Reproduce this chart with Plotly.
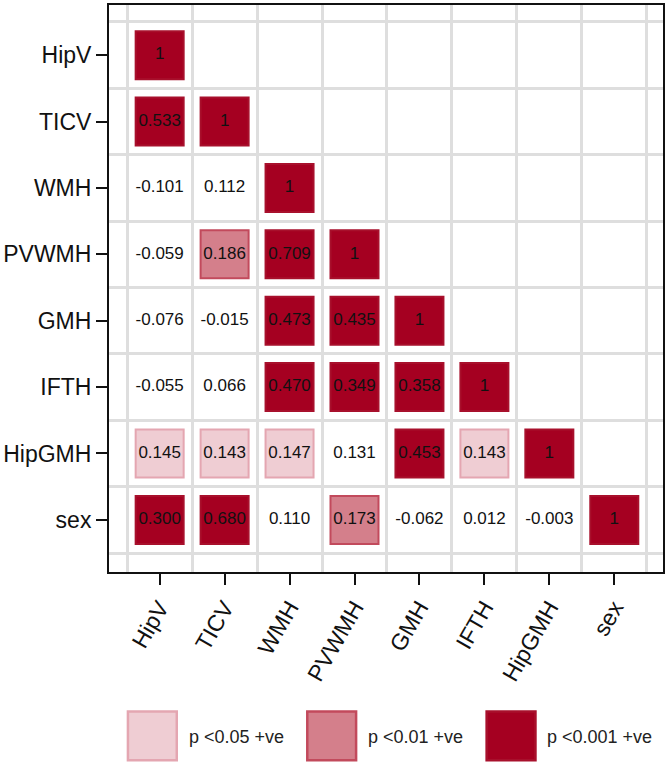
import plotly.graph_objects as go

# ---- data ----
variables = ["HipV", "TICV", "WMH", "PVWMH", "GMH", "IFTH", "HipGMH", "sex"]

# lower-triangular correlation values, row by row (row i has i+1 entries)
corr_rows = [
    [1],
    [0.533, 1],
    [-0.101, 0.112, 1],
    [-0.059, 0.186, 0.709, 1],
    [-0.076, -0.015, 0.473, 0.435, 1],
    [-0.055, 0.066, 0.470, 0.349, 0.358, 1],
    [0.145, 0.143, 0.147, 0.131, 0.453, 0.143, 1],
    [0.300, 0.680, 0.110, 0.173, -0.062, 0.012, -0.003, 1],
]

# significance level per cell: 0 = n.s., 1 = p<0.05, 2 = p<0.01, 3 = p<0.001
sig_rows = [
    [3],
    [3, 3],
    [0, 0, 3],
    [0, 2, 3, 3],
    [0, 0, 3, 3, 3],
    [0, 0, 3, 3, 3, 3],
    [1, 1, 1, 0, 3, 1, 3],
    [3, 3, 0, 2, 0, 0, 0, 3],
]

legend_labels = ["p <0.05 +ve", "p <0.01 +ve", "p <0.001 +ve"]

# ---- styles ----
FONT = "Liberation Sans, Arial, sans-serif"
fills = {1: "#EFCDD3", 2: "#D47F8B", 3: "#A50021"}
borders = {1: "#E4A6B1", 2: "#C24A5C", 3: "#A8102C"}

fig = go.Figure()

# squares per significance level
for lvl in (1, 2, 3):
    xs, ys = [], []
    for i, row in enumerate(sig_rows):
        for j, s in enumerate(row):
            if s == lvl:
                xs.append(j)
                ys.append(i)
    fig.add_trace(go.Scatter(
        x=xs, y=ys, mode="markers",
        marker=dict(symbol="square", size=48, color=fills[lvl],
                    line=dict(color=borders[lvl], width=2)),
        hoverinfo="skip", showlegend=False,
    ))

# text values
tx, ty, tt = [], [], []
for i, row in enumerate(corr_rows):
    for j, v in enumerate(row):
        tx.append(j)
        ty.append(i)
        tt.append("1" if v == 1 else f"{v:.3f}")
fig.add_trace(go.Scatter(
    x=tx, y=ty, mode="text", text=tt,
    textfont=dict(family=FONT, size=17, color="#111111"),
    hoverinfo="skip", showlegend=False,
))

grid_vals = [k - 0.5 for k in range(len(variables) + 1)]
axis_common = dict(
    showline=True, linecolor="#111111", linewidth=2, mirror=True,
    ticks="outside", ticklen=11, tickwidth=2, tickcolor="#111111",
    showgrid=False, zeroline=False,
    tickfont=dict(family=FONT, size=23, color="#111111"),
    minor=dict(tickvals=grid_vals, showgrid=True, gridcolor="#DEDEDE", gridwidth=2.5, ticks=""),
)

fig.update_xaxes(
    range=[-0.78, 7.75],
    tickvals=list(range(len(variables))), ticktext=variables,
    tickangle=-60, **axis_common,
)
fig.update_yaxes(
    range=[7.785, -0.755],
    tickvals=list(range(len(variables))), ticktext=variables,
    **axis_common,
)

# legend drawn at the bottom
shapes = []
annotations = []
legend_x0 = [127, 307, 487]  # pixel left edges
plot_left, plot_w = 108, 556
plot_bottom, plot_h = 572, 569
for k, lvl in enumerate((1, 2, 3)):
    x0 = (legend_x0[k] - plot_left) / plot_w
    x1 = (legend_x0[k] + 49 - plot_left) / plot_w
    y0 = (plot_bottom - 761) / plot_h
    y1 = (plot_bottom - 712) / plot_h
    shapes.append(dict(type="rect", xref="paper", yref="paper",
                       x0=x0, x1=x1, y0=y0, y1=y1,
                       fillcolor=fills[lvl], line=dict(color=borders[lvl], width=2.5)))
    annotations.append(dict(
        xref="paper", yref="paper",
        x=(legend_x0[k] + 59 - plot_left) / plot_w, y=(plot_bottom - 738) / plot_h,
        text=legend_labels[k], showarrow=False, xanchor="left", yanchor="middle",
        font=dict(family=FONT, size=18, color="#222222"),
    ))

fig.update_layout(
    width=668, height=764,
    margin=dict(l=108, r=4, t=3, b=192),
    paper_bgcolor="white", plot_bgcolor="white",
    shapes=shapes, annotations=annotations,
    showlegend=False,
)

fig.write_html("out.html", config={"displayModeBar": False},
               post_script="document.body.style.margin='0';")
